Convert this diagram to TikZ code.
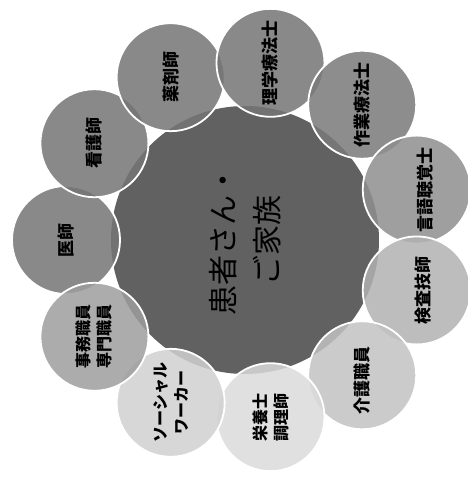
\documentclass[tikz,border=0pt]{standalone}
\usepackage{fontspec}
\usetikzlibrary{calc}
\setmainfont{Noto Sans CJK JP}
\begin{document}
\begin{tikzpicture}[x=1pt,y=-1pt,
  outer/.style={circle,minimum size=108pt,inner sep=0pt,draw=white,line width=1.8pt,fill opacity=0.85,text opacity=1},
  lbl/.style={font=\fontsize{17}{21}\selectfont\bfseries,rotate=90,align=center,text=black},
  lbltwo/.style={font=\fontsize{16}{21}\selectfont\bfseries,rotate=90,align=center,text=black},
  hub/.style={circle,minimum size=268pt,inner sep=0pt,fill=black!62}]
\useasboundingbox (0,0) rectangle (467,477);
\fill[white] (0,0) rectangle (467,477);
\coordinate (c) at (245,240);
\node[hub] (center) at (c) {};
\def\rr{179}
\foreach \k/\nm/\col in {0/ishi/black!54,1/kango/black!54,2/yaku/black!54,3/rigaku/black!54,4/sagyo/black!52,5/gengo/black!44,6/kensa/black!30,7/kaigo/black!24,8/eiyo/black!14,9/social/black!18,10/jimu/black!38}{
  \node[outer,fill=\col] (\nm) at ($(c)+({\rr*cos(180-32.727*\k)},{-\rr*sin(180-32.727*\k)})$) {};
}
\node[font=\fontsize{30}{44}\selectfont,rotate=90,align=center] (ct) at (c) {患者さん・\\ご家族};
\node[lbl] (t0) at (ishi) {医師};
\node[lbl] (t1) at (kango) {看護師};
\node[lbl] (t2) at (yaku) {薬剤師};
\node[lbl] (t3) at (rigaku) {理学療法士};
\node[lbl] (t4) at (sagyo) {作業療法士};
\node[lbl] (t5) at ([xshift=8pt]gengo.center) {言語聴覚士};
\node[lbl] (t6) at ([xshift=6pt]kensa.center) {検査技師};
\node[lbl] (t7) at ([yshift=-5pt]kaigo.center) {介護職員};
\node[lbltwo] (t8) at (eiyo) {栄養士\\調理師};
\node[lbltwo] (t9) at (social) {ソーシャル\\ワーカー};
\node[lbltwo] (t10) at (jimu) {事務職員\\専門職員};
\end{tikzpicture}
\end{document}
